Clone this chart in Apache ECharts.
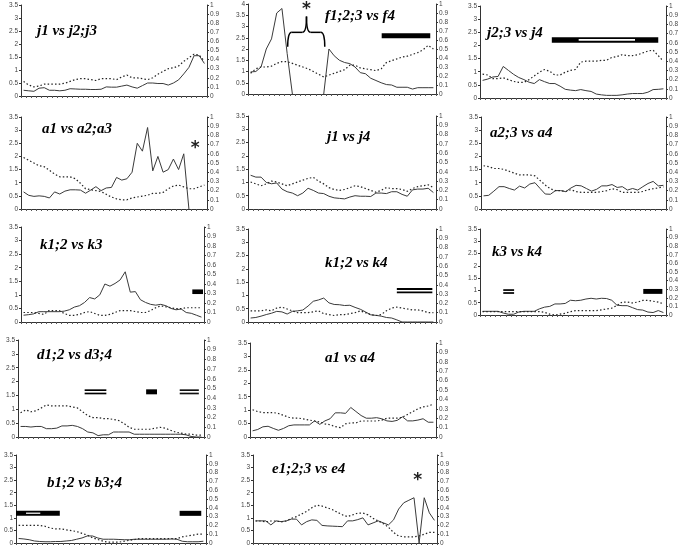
<!DOCTYPE html>
<html><head><meta charset="utf-8">
<script src="https://cdn.jsdelivr.net/npm/echarts@6/dist/echarts.min.js"></script>
<style>html,body{margin:0;padding:0;background:#fff}#c{width:685px;height:549px}</style>
</head><body><div id="c"></div>
<script>
// ---------- data ----------
const titleNames = ['j1 vs j2;j3','f1;2;3 vs f4','j2;3 vs j4','a1 vs a2;a3','j1 vs j4','a2;3 vs a4','k1;2 vs k3','k1;2 vs k4','k3 vs k4','d1;2 vs d3;4','a1 vs a4','b1;2 vs b3;4','e1;2;3 vs e4'];
const leftMaxima = [3.5,4,3.5,3.5,3.5,3.5,3.5,3.5,3.5,3.5,3.5,3.5,3.5];

const solidJ1J23 = [0.22,0.2,0.18,0.3,0.32,0.22,0.22,0.2,0.22,0.28,0.27,0.26,0.26,0.25,0.25,0.26,0.35,0.34,0.34,0.38,0.42,0.35,0.3,0.4,0.5,0.5,0.48,0.48,0.42,0.5,0.62,0.85,1.1,1.55,1.55,1.25];
const dottedJ1J23 = [0.16,0.12,0.1,0.11,0.13,0.13,0.13,0.13,0.14,0.16,0.18,0.19,0.19,0.18,0.17,0.19,0.19,0.19,0.18,0.21,0.23,0.2,0.2,0.19,0.18,0.2,0.24,0.27,0.3,0.31,0.33,0.38,0.42,0.46,0.45,0.38];

const solidF123F4 = [0.98,1.0,1.2,2.0,2.45,3.6,3.8,1.8,0,null,null,null,null,null,0,2.0,1.7,1.5,1.4,1.35,1.2,0.95,0.9,0.7,0.6,0.5,0.42,0.4,0.3,0.3,0.3,0.22,0.28,0.28,0.28,0.28];
const dottedF123F4 = [0.23,0.28,0.3,0.3,0.31,0.34,0.36,0.36,0.34,0.32,0.3,0.28,0.25,0.22,0.19,0.21,0.23,0.25,0.27,0.32,0.32,0.29,0.28,0.27,0.26,0.28,0.35,0.37,0.39,0.41,0.42,0.44,0.46,0.49,0.54,0.5];

const solidJ23J4 = [0.67,0.72,0.8,0.82,1.2,1.05,0.9,0.78,0.7,0.6,0.55,0.7,0.62,0.55,0.55,0.45,0.33,0.3,0.28,0.32,0.28,0.25,0.15,0.12,0.1,0.1,0.1,0.12,0.15,0.17,0.17,0.17,0.22,0.32,0.33,0.35];
const dottedJ23J4 = [0.26,0.25,0.21,0.21,0.22,0.2,0.18,0.17,0.17,0.2,0.24,0.28,0.31,0.29,0.25,0.25,0.28,0.3,0.31,0.39,0.4,0.4,0.4,0.41,0.41,0.44,0.45,0.47,0.46,0.46,0.47,0.49,0.51,0.52,0.46,0.4];

const solidA1A23 = [0.65,0.52,0.48,0.5,0.48,0.42,0.65,0.57,0.68,0.73,0.73,0.72,0.6,0.72,0.85,0.7,0.8,0.82,1.2,1.1,1.15,1.4,2.5,2.2,3.1,1.45,2.0,1.4,1.5,1.9,1.5,2.1,0,null,null,null];
const dottedA1A23 = [0.56,0.53,0.5,0.47,0.46,0.42,0.38,0.35,0.35,0.35,0.33,0.28,0.22,0.21,0.2,0.19,0.16,0.13,0.11,0.1,0.1,0.12,0.13,0.14,0.15,0.17,0.17,0.18,0.22,0.25,0.26,0.24,0.22,0.22,0.24,0.26];

const solidJ1J4 = [1.27,1.2,1.2,1.0,0.95,0.98,0.75,0.65,0.6,0.5,0.6,0.78,0.7,0.6,0.58,0.48,0.42,0.4,0.38,0.45,0.5,0.48,0.48,0.47,0.6,0.6,0.58,0.65,0.65,0.55,0.48,0.72,0.75,0.75,0.78,0.62];
const dottedJ1J4 = [0.29,0.27,0.25,0.27,0.3,0.29,0.27,0.25,0.27,0.29,0.31,0.33,0.34,0.3,0.27,0.23,0.21,0.2,0.21,0.23,0.25,0.24,0.22,0.2,0.18,0.2,0.23,0.22,0.22,0.21,0.19,0.22,0.24,0.25,0.26,0.23];

const solidA23A4 = [0.5,0.52,0.68,0.85,0.85,0.78,0.72,0.87,0.8,0.95,1.0,0.78,0.57,0.56,0.7,0.7,0.66,0.8,0.9,0.88,0.78,0.68,0.75,0.88,0.88,0.93,0.82,0.85,0.72,0.78,0.72,0.85,0.97,1.05,0.88,0.9];
const dottedA23A4 = [0.47,0.46,0.44,0.44,0.43,0.41,0.39,0.37,0.37,0.37,0.36,0.31,0.26,0.22,0.2,0.2,0.19,0.21,0.19,0.18,0.18,0.18,0.18,0.19,0.2,0.22,0.21,0.18,0.18,0.18,0.18,0.19,0.21,0.22,0.23,0.24];

const solidK12K3 = [0.25,0.27,0.3,0.38,0.38,0.38,0.38,0.38,0.4,0.45,0.55,0.6,0.72,0.9,0.85,1.0,1.4,1.32,1.42,1.55,1.85,1.1,1.12,0.82,0.72,0.65,0.62,0.65,0.6,0.5,0.45,0.48,0.35,0.32,0.25,0.18];
const dottedK12K3 = [0.1,0.1,0.1,0.09,0.08,0.12,0.12,0.12,0.09,0.07,0.07,0.08,0.1,0.11,0.09,0.07,0.07,0.08,0.1,0.12,0.12,0.12,0.11,0.1,0.1,0.12,0.15,0.17,0.16,0.15,0.14,0.14,0.15,0.15,0.15,0.15];

const solidK12K4 = [0.15,0.17,0.22,0.28,0.33,0.4,0.38,0.3,0.4,0.42,0.45,0.6,0.78,0.83,0.9,0.72,0.66,0.65,0.62,0.63,0.55,0.48,0.38,0.27,0.25,0.22,0.17,0.15,0.08,0,0,0,0,0,0,0];
const dottedK12K4 = [0.12,0.12,0.12,0.13,0.12,0.15,0.16,0.14,0.12,0.1,0.1,0.1,0.11,0.12,0.09,0.08,0.07,0.08,0.08,0.09,0.1,0.12,0.1,0.08,0.07,0.08,0.12,0.15,0.16,0.15,0.14,0.13,0.13,0.12,0.1,0.1];

const solidK3K4 = [0.15,0.15,0.15,0.15,0.08,0.03,0.03,0.12,0.15,0.15,0.15,0.25,0.32,0.35,0.45,0.45,0.47,0.6,0.58,0.6,0.65,0.68,0.65,0.68,0.67,0.6,0.4,0.38,0.38,0.3,0.22,0.2,0.12,0.1,0.18,0.1];
const dottedK3K4 = [0.04,0.04,0.04,0.04,0.04,0.04,0.04,0.04,0.04,0.04,0.04,0.04,0.03,0.01,0,0.01,0.02,0.04,0.05,0.05,0.05,0.05,0.05,0.06,0.07,0.08,0.11,0.15,0.15,0.14,0.15,0.17,0.17,0.16,0.15,0.13];

const solidD12D34 = [0.38,0.38,0.36,0.38,0.38,0.3,0.3,0.32,0.4,0.4,0.42,0.38,0.3,0.18,0.15,0.05,0.08,0.08,0.18,0.18,0.18,0.18,0.1,0.1,0.1,0.1,0.1,0.1,0.1,0.1,0.1,0.1,0.08,0.02,0,0];
const dottedD12D34 = [0.25,0.28,0.26,0.27,0.3,0.33,0.32,0.32,0.32,0.32,0.31,0.3,0.26,0.22,0.2,0.2,0.19,0.19,0.18,0.17,0.14,0.1,0.08,0.08,0.08,0.08,0.09,0.1,0.09,0.07,0.05,0.04,0.03,0.03,0.02,0.02];

const solidA1A4 = [0.23,0.28,0.38,0.4,0.32,0.25,0.32,0.42,0.45,0.45,0.45,0.45,0.6,0.47,0.6,0.68,0.9,0.9,0.88,1.1,0.95,0.8,0.7,0.7,0.72,0.68,0.6,0.58,0.62,0.75,0.6,0.6,0.63,0.68,0.55,0.55];
const dottedA1A4 = [0.29,0.27,0.26,0.26,0.26,0.25,0.23,0.21,0.2,0.2,0.19,0.18,0.17,0.16,0.14,0.13,0.11,0.1,0.14,0.15,0.15,0.17,0.17,0.17,0.17,0.18,0.2,0.2,0.2,0.21,0.24,0.27,0.3,0.32,0.33,0.35];

const solidB12B34 = [0.18,0.16,0.13,0.08,0.06,0.05,0.05,0.06,0.06,0.08,0.1,0.15,0.2,0.28,0.28,0.2,0.15,0.15,0.15,0.14,0.13,0.13,0.15,0.15,0.15,0.15,0.15,0.15,0.15,0.16,0.15,0.07,0.05,0.05,0.05,0.07];
const dottedB12B34 = [0.2,0.2,0.2,0.2,0.2,0.19,0.17,0.16,0.16,0.15,0.14,0.13,0.11,0.09,0.06,0.04,0.02,0.01,0.01,0.01,0.02,0.03,0.04,0.05,0.05,0.05,0.05,0.05,0.05,0.05,0.05,0.07,0.08,0.09,0.1,0.1];

const solidE123E4 = [0.88,0.88,0.88,0.72,0.88,0.85,0.88,0.95,0.95,0.72,0.85,0.92,0.9,0.7,0.68,0.67,0.66,0.65,0.88,0.88,0.93,1.0,0.72,0.8,0.88,0.8,0.72,0.92,1.35,1.6,1.7,1.8,0,1.8,1.2,0.9];
const dottedE123E4 = [0.25,0.25,0.24,0.25,0.25,0.24,0.25,0.28,0.3,0.33,0.36,0.4,0.43,0.42,0.4,0.38,0.35,0.32,0.3,0.32,0.34,0.34,0.32,0.28,0.25,0.22,0.18,0.12,0.08,0.07,0.07,0.07,0.08,0.1,0.12,0.12];

// bars: [xStart, xEnd, yLow, yHigh, colour] in category / left-axis units
const barsF = [[25.6,34.9,2.48,2.7,'#000']];
const barsJ23 = [[13.9,34.5,2.1,2.31,'#000'],[19.1,30.0,2.18,2.24,'#fff']];
const barsK3 = [[33.7,35.8,1.03,1.2,'#000']];
const barsK4 = [[28.5,35.3,1.2,1.28,'#000'],[28.5,35.3,1.08,1.15,'#000']];
const barsK3K4 = [[4.5,6.6,0.98,1.05,'#000'],[4.5,6.6,0.86,0.93,'#000'],[31.6,35.3,0.86,1.06,'#000']];
const barsD = [[12.9,17.1,1.66,1.72,'#000'],[12.9,17.1,1.54,1.6,'#000'],[24.8,26.9,1.54,1.72,'#000'],[31.3,35,1.66,1.72,'#111'],[31.3,35,1.54,1.6,'#111']];
const barsB = [[0,8.3,1.08,1.28,'#000'],[1.9,4.6,1.16,1.21,'#fff'],[31,35.1,1.08,1.28,'#000']];

// asterisks: [panel, x, y(left axis)]
const asterisks = [[1,11.2,3.73],[3,33.7,2.3],[12,32.2,2.5]];
// brace in panel f: [panel, xLeft, xRight, xTip, yEnds, yTop, yTip]
const braceF = [1,7.6,14.7,11.2,2.1,2.74,3.44];

const solids = [solidJ1J23,solidF123F4,solidJ23J4,solidA1A23,solidJ1J4,solidA23A4,solidK12K3,solidK12K4,solidK3K4,solidD12D34,solidA1A4,solidB12B34,solidE123E4];
const dotteds = [dottedJ1J23,dottedF123F4,dottedJ23J4,dottedA1A23,dottedJ1J4,dottedA23A4,dottedK12K3,dottedK12K4,dottedK3K4,dottedD12D34,dottedA1A4,dottedB12B34,dottedE123E4];
const barsAll = [[],barsF,barsJ23,[],[],[],barsK3,barsK4,barsK3K4,barsD,[],barsB,[]];

// ---------- layout ----------
const boxes = [
 [21,5,186,91],[248,4,188,90],[480,6,186,92],
 [21,117,186,92],[248,116,188,93],[481,117,185,92],
 [21,227,183,95],[248,229,188,93],[480,229,186,86],
 [18,340,186,97],[250,343,186,94],
 [16,455,190,88],[253,455,184,88]
];
const titlePos = [[37,24],[325,9],[487,26],[42,122],[327,130],[490,126],[40,238],[325,256],[492,245],[37,348],[325,351],[47,476],[272,462]];
const NCAT = 36;

const grid = [], xAxis = [], yAxis = [], series = [], title = [];
const labelStyle = {fontSize:6.5,color:'#444',fontFamily:'Liberation Sans'};
boxes.forEach((b,k)=>{
  grid.push({left:b[0],top:b[1],width:b[2],height:b[3]});
  xAxis.push({gridIndex:k,type:'value',min:0,max:NCAT,interval:1,
    axisLabel:{show:false},axisTick:{show:true,length:2,lineStyle:{color:'#555',width:1}},
    axisLine:{show:true,onZero:false,lineStyle:{color:'#333',width:1}},splitLine:{show:false}});
  yAxis.push({gridIndex:k,type:'value',position:'left',min:0,max:leftMaxima[k],interval:0.5,
    axisLine:{show:true,onZero:false,lineStyle:{color:'#333',width:1}},
    axisTick:{show:true,length:2,lineStyle:{color:'#333'}},
    axisLabel:Object.assign({margin:3},labelStyle),splitLine:{show:false}});
  yAxis.push({gridIndex:k,type:'value',position:'right',min:0,max:1,interval:0.1,
    axisLine:{show:true,onZero:false,lineStyle:{color:'#333',width:1}},
    axisTick:{show:true,length:2,lineStyle:{color:'#333'}},
    axisLabel:Object.assign({margin:3},labelStyle),splitLine:{show:false}});
  series.push({type:'line',xAxisIndex:k,yAxisIndex:2*k,symbol:'none',silent:true,
    data:solids[k].map((v,i)=>[i+0.5, v==null?'-':v]),
    lineStyle:{color:'#3a3a3a',width:1},
    markArea:{silent:true,data:barsAll[k].map(r=>[{coord:[r[0],r[2]],itemStyle:{color:r[4],opacity:1,borderWidth:0}},{coord:[r[1],r[3]]}])}
  });
  series.push({type:'line',xAxisIndex:k,yAxisIndex:2*k+1,symbol:'none',silent:true,
    data:dotteds[k].map((v,i)=>[i+0.5,v]),
    lineStyle:{color:'#222',width:1.2,type:[1.5,2.2]}});
  title.push({text:titleNames[k],left:titlePos[k][0],top:titlePos[k][1],padding:0,
    textStyle:{fontFamily:'Liberation Serif',fontStyle:'italic',fontWeight:'bold',fontSize:15,color:'#000'}});
});

const chart = echarts.init(document.getElementById('c'),null,{renderer:'canvas'});
chart.setOption({animation:false,backgroundColor:'#fff',title,grid,xAxis,yAxis,series});

// annotations placed through the axes
const graphic = [];
asterisks.forEach(a=>{
  const p = chart.convertToPixel({seriesIndex:2*a[0]},[a[1],a[2]]);
  graphic.push({type:'text',x:p[0],y:p[1],style:{text:'*',font:'bold 17px DejaVu Sans',fill:'#222',align:'center',verticalAlign:'middle'}});
});
{
  const k = braceF[0];
  const P = (x,y)=>chart.convertToPixel({seriesIndex:2*k},[x,y]);
  const L = P(braceF[1],braceF[4]), R = P(braceF[2],braceF[4]);
  const T = P(braceF[3],braceF[6]);
  const yT = P(braceF[1],braceF[5])[1];
  const st = {stroke:'#000',lineWidth:1.5,fill:null};
  const q = (x1,y1,cx,cy,x2,y2)=>({type:'bezierCurve',shape:{x1,y1,x2,y2,cpx1:cx,cpy1:cy},style:st});
  const ln = (x1,y1,x2,y2)=>({type:'line',shape:{x1,y1,x2,y2},style:st});
  graphic.push(q(L[0],L[1],L[0],yT,L[0]+4,yT));
  graphic.push(ln(L[0]+4,yT,T[0]-4,yT));
  graphic.push(q(T[0]-4,yT,T[0],yT,T[0],T[1]));
  graphic.push(q(T[0],T[1],T[0],yT,T[0]+4,yT));
  graphic.push(ln(T[0]+4,yT,R[0]-4,yT));
  graphic.push(q(R[0]-4,yT,R[0],yT,R[0],R[1]));
}
chart.setOption({graphic});
</script></body></html>
